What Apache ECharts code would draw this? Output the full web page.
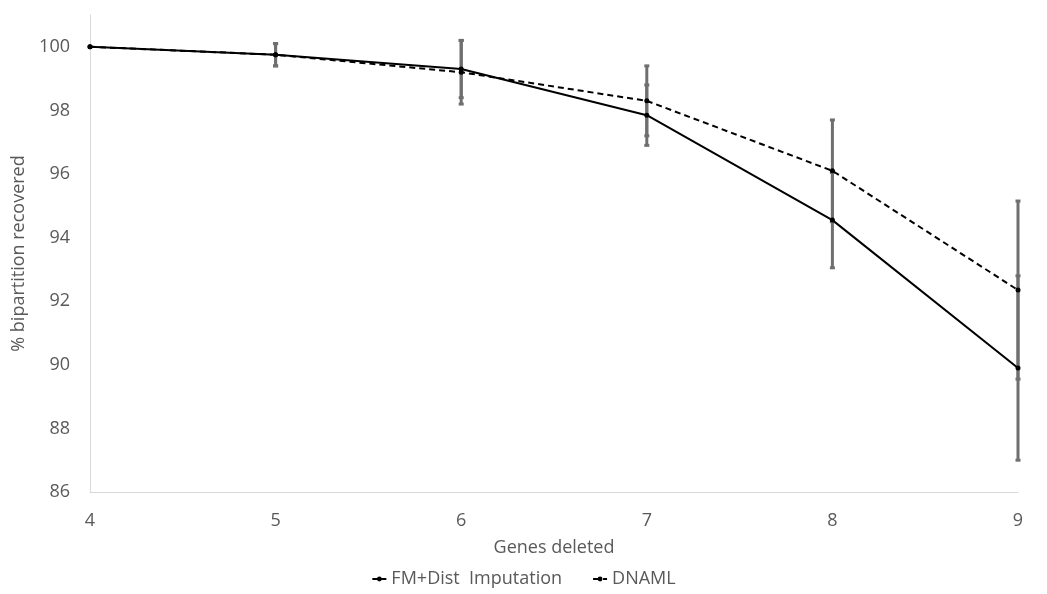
<!DOCTYPE html>
<html>
<head>
<meta charset="utf-8">
<script src="https://cdn.jsdelivr.net/npm/echarts@6/dist/echarts.min.js"></script>
<style>
  html, body { margin: 0; padding: 0; background: #fff; }
  #chart { width: 1047px; height: 594px; }
</style>
</head>
<body>
<div id="chart"></div>
<script>
// values
const genesDeleted = [4, 5, 6, 7, 8, 9];
const fmDist = [100, 99.75, 99.3, 97.85, 94.55, 89.9];
const fmDistErr = [0, 0.35, 0.9, 0.95, 1.5, 2.9];
const dnaml = [100, 99.75, 99.2, 98.3, 96.1, 92.35];
const dnamlErr = [0, 0.35, 1.0, 1.1, 1.6, 2.8];

const font = 'Open Sans';
const textColor = '#595959';
const errColor = '#6f6f6f';

function pairs(xs, ys) {
  return xs.map((x, i) => [x, ys[i]]);
}

function errData(xs, ys, errs) {
  return xs.map((x, i) => [x, ys[i] - errs[i], ys[i] + errs[i]]);
}

// vertical error bar with small square caps
function renderErr(params, api) {
  const x = api.value(0);
  const lo = api.coord([x, api.value(1)]);
  const hi = api.coord([x, api.value(2)]);
  if (Math.abs(lo[1] - hi[1]) < 0.5) return null;
  const style = { stroke: errColor, lineWidth: 3 };
  return {
    type: 'group',
    children: [
      { type: 'line', shape: { x1: lo[0], y1: lo[1], x2: hi[0], y2: hi[1] }, style },
      { type: 'line', shape: { x1: lo[0] - 2.5, y1: lo[1], x2: lo[0] + 2.5, y2: lo[1] }, style },
      { type: 'line', shape: { x1: hi[0] - 2.5, y1: hi[1], x2: hi[0] + 2.5, y2: hi[1] }, style }
    ]
  };
}

const chart = echarts.init(document.getElementById('chart'));

chart.setOption({
  animation: false,
  backgroundColor: '#fff',
  textStyle: { fontFamily: font },
  grid: { left: 90, right: 29, top: 15, bottom: 102 },
  legend: {
    top: 565,
    left: 'center',
    itemWidth: 14,
    itemHeight: 6,
    itemGap: 30,
    textStyle: { fontFamily: font, fontSize: 18, color: textColor },
    data: ['FM+Dist  Imputation', 'DNAML']
  },
  xAxis: {
    type: 'value',
    min: 4,
    max: 9,
    interval: 1,
    name: 'Genes deleted',
    nameLocation: 'middle',
    nameGap: 47,
    nameTextStyle: { fontFamily: font, fontSize: 18, color: textColor },
    axisLine: { lineStyle: { color: '#d9d9d9', width: 1 } },
    axisTick: { show: false },
    axisLabel: { fontFamily: font, fontSize: 18, color: textColor, margin: 20 },
    splitLine: { show: false }
  },
  yAxis: {
    type: 'value',
    min: 86,
    max: 101,
    interval: 2,
    name: '% bipartition recovered',
    nameLocation: 'middle',
    nameGap: 60,
    nameTextStyle: { fontFamily: font, fontSize: 18, color: textColor },
    axisLine: { show: true, lineStyle: { color: '#d9d9d9', width: 1 } },
    axisTick: { show: false },
    axisLabel: {
      fontFamily: font, fontSize: 18, color: textColor, margin: 20,
      formatter: v => (v > 100 ? '' : v)
    },
    splitLine: { show: false }
  },
  series: [
    {
      type: 'custom',
      name: 'fmErr',
      renderItem: renderErr,
      data: errData(genesDeleted, fmDist, fmDistErr),
      encode: { x: 0, y: [1, 2] },
      z: 1,
      silent: true
    },
    {
      type: 'custom',
      name: 'dnamlErr',
      renderItem: renderErr,
      data: errData(genesDeleted, dnaml, dnamlErr),
      encode: { x: 0, y: [1, 2] },
      z: 1,
      silent: true
    },
    {
      type: 'line',
      name: 'FM+Dist  Imputation',
      data: pairs(genesDeleted, fmDist),
      symbol: 'circle',
      symbolSize: 5,
      itemStyle: { color: '#000' },
      lineStyle: { color: '#000', width: 2 },
      z: 3
    },
    {
      type: 'line',
      name: 'DNAML',
      data: pairs(genesDeleted, dnaml),
      symbol: 'circle',
      symbolSize: 5,
      itemStyle: { color: '#000' },
      lineStyle: { color: '#000', width: 2, type: [6, 4] },
      z: 3
    }
  ]
});
</script>
</body>
</html>
